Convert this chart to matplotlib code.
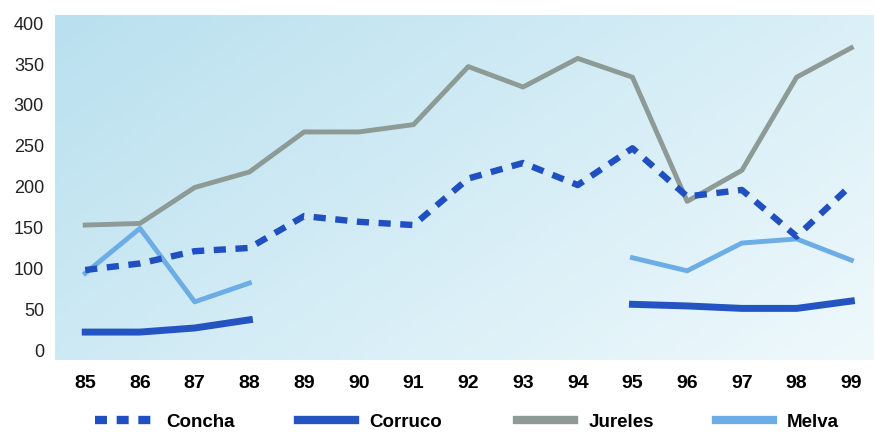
import numpy as np
import matplotlib
matplotlib.use("Agg")
import matplotlib.pyplot as plt
from matplotlib.lines import Line2D

years = [85, 86, 87, 88, 89, 90, 91, 92, 93, 94, 95, 96, 97, 98, 99]
year_labels = [str(y) for y in years]
concha = [98, 106, 121, 125, 164, 157, 153, 210, 229, 202, 247, 188, 196, 139, 202]
corruco = [22, 22, 27, 37, None, None, None, None, None, None, 56, 54, 51, 51, 60]
jureles = [153, 155, 199, 218, 267, 267, 276, 347, 322, 357, 334, 182, 220, 334, 370]
melva = [94, 149, 59, 82, None, None, None, None, None, None, 113, 97, 131, 136, 110]
yticks = [0, 50, 100, 150, 200, 250, 300, 350, 400]
series_names = ["Concha", "Corruco", "Jureles", "Melva"]

def arr(v):
    return np.array([np.nan if x is None else x for x in v], dtype=float)

fig = plt.figure(figsize=(8.75, 4.32), dpi=100)
ax = fig.add_axes([0.063, 0.167, 0.935, 0.798])
ax.set_xlim(84.45, 99.4)
ax.set_ylim(-12, 410)

# background gradient (diagonal: saturated top-left -> pale bottom-right)
nx, ny = 200, 100
gx = np.linspace(0, 1, nx)[None, :]
gy = np.linspace(0, 1, ny)[:, None]  # 0 bottom, 1 top
c_a = np.array([0xb9, 0xe0, 0xef]) / 255
c_b = np.array([0xef, 0xf9, 0xfc]) / 255
t = np.clip(0.62 * gx + 0.38 * (1 - gy), 0, 1)
img = c_a[None, None, :] * (1 - t[..., None]) + c_b[None, None, :] * t[..., None]
ax.imshow(img, extent=[84.45, 99.4, -12, 410], origin="lower", aspect="auto", zorder=0)

c_concha = "#1f4fc0"
c_corruco = "#2454c2"
c_jureles = "#8d9a95"
c_melva = "#6cade6"

ax.plot(years, arr(jureles), color=c_jureles, lw=3.5, zorder=2)
ax.plot(years, arr(melva), color=c_melva, lw=3.5, zorder=3)
ax.plot(years, arr(corruco), color=c_corruco, lw=5, zorder=3)
ax.plot(years, arr(concha), color=c_concha, lw=4.6, dashes=(1.9, 1.5), zorder=4)

ax.set_xticks(years)
ax.set_xticklabels(year_labels, fontsize=14, fontweight="bold", family="Liberation Sans")
ax.set_yticks(yticks)
ax.set_yticklabels([str(v) for v in yticks], fontsize=13, family="Liberation Sans", color="#222222")
ax.tick_params(length=0)
ax.tick_params(axis="x", pad=11)
ax.tick_params(axis="y", pad=8)
for s in ax.spines.values():
    s.set_visible(False)

handles = [
    Line2D([], [], color=c_concha, lw=6, dashes=(1.44, 1.16)),
    Line2D([], [], color=c_corruco, lw=6),
    Line2D([], [], color=c_jureles, lw=6),
    Line2D([], [], color=c_melva, lw=6),
]
leg_x = [95, 298, 517, 716]
for h, name, xp in zip(handles, series_names, leg_x):
    lg = fig.legend([h], [name], loc="center left", bbox_to_anchor=(xp / 875, 1 - 422 / 432),
                    frameon=False, handlelength=3.05, handletextpad=0.75,
                    borderpad=0, borderaxespad=0,
                    prop={"family": "Liberation Sans", "weight": "bold", "size": 13.5})

fig.savefig("out.png", dpi=100)
